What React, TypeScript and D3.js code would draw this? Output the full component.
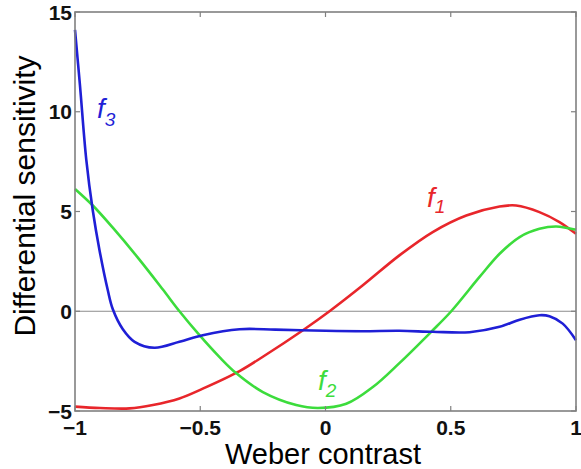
import React from "react";
import * as d3 from "d3";

const xTicks = [-1, -0.5, 0, 0.5, 1];
const xTickLabels = ["−1", "−0.5", "0", "0.5", "1"];
const yTicks = [-5, 0, 5, 10, 15];
const yTickLabels = ["−5", "0", "5", "10", "15"];

const f1X = [-1, -0.9, -0.782, -0.689, -0.583, -0.49, -0.343, -0.25, -0.09, 0.016, 0.149, 0.295, 0.428, 0.562, 0.695, 0.761, 0.854, 0.934, 1];
const f1Y = [-4.78, -4.85, -4.87, -4.7, -4.37, -3.88, -3.0, -2.28, -0.95, 0, 1.3, 2.8, 3.97, 4.8, 5.25, 5.3, 4.97, 4.47, 3.88];

const f2X = [-1, -0.929, -0.85, -0.75, -0.65, -0.583, -0.503, -0.423, -0.357, -0.25, -0.117, -0.03, 0.083, 0.189, 0.295, 0.422, 0.502, 0.615, 0.695, 0.775, 0.854, 0.921, 1];
const f2Y = [6.13, 5.3, 4.2, 2.7, 1.1, 0, -1.2, -2.3, -3.1, -4.05, -4.7, -4.85, -4.64, -3.8, -2.6, -1.03, 0, 1.72, 2.88, 3.72, 4.13, 4.25, 4.08];

const f3X = [-1, -0.98, -0.955, -0.929, -0.902, -0.869, -0.849, -0.809, -0.762, -0.683, -0.583, -0.49, -0.343, -0.2, 0, 0.15, 0.295, 0.428, 0.575, 0.695, 0.775, 0.854, 0.894, 0.947, 1];
const f3Y = [14.1, 11.3, 7.6, 5.05, 3.05, 1.05, 0.1, -0.9, -1.53, -1.83, -1.53, -1.2, -0.9, -0.92, -0.98, -1.0, -0.98, -1.03, -1.05, -0.78, -0.42, -0.2, -0.25, -0.62, -1.45];

const RED = "#e8262b";
const GREEN = "#3cdc3c";
const BLUE = "#1f1fd6";

export default function App() {
  const W = 581, H = 469;
  const left = 75, right = 576, top = 12, bottom = 411;
  const x = d3.scaleLinear().domain([-1, 1]).range([left, right]);
  const y = d3.scaleLinear().domain([-5, 15]).range([bottom, top]);
  const line = d3
    .line<[number, number]>()
    .x((d) => x(d[0]))
    .y((d) => y(d[1]))
    .curve(d3.curveCatmullRom.alpha(0.5));
  const series = [
    { xs: f1X, ys: f1Y, color: RED },
    { xs: f2X, ys: f2Y, color: GREEN },
    { xs: f3X, ys: f3Y, color: BLUE },
  ];
  const font = "'Liberation Sans', Arial, Helvetica, sans-serif";
  const axisColor = "#808080";
  const tl = 5;
  return (
    <svg width={W} height={H} style={{ position: "absolute", left: 0, top: 0, background: "#fff" }} fontFamily={font}>
      <rect x={0} y={0} width={W} height={H} fill="#fff" />
      <line x1={x(-1)} x2={x(1)} y1={y(0)} y2={y(0)} stroke="#8c8c8c" strokeWidth={1} />
      {series.map((s, i) => (
        <path
          key={i}
          d={line(s.xs.map((v, j) => [v, s.ys[j]] as [number, number])) || ""}
          fill="none"
          stroke={s.color}
          strokeWidth={2.6}
          strokeLinejoin="round"
        />
      ))}
      <rect x={left} y={top} width={right - left} height={bottom - top} fill="none" stroke={axisColor} strokeWidth={1.6} />
      {xTicks.map((t, i) => (
        <g key={"xt" + i}>
          <line x1={x(t)} x2={x(t)} y1={bottom} y2={bottom - tl} stroke={axisColor} strokeWidth={1.2} />
          <line x1={x(t)} x2={x(t)} y1={top} y2={top + tl} stroke={axisColor} strokeWidth={1.2} />
          <text x={x(t)} y={435} textAnchor="middle" fontSize={21} fontWeight="bold" fill="#111">
            {xTickLabels[i]}
          </text>
        </g>
      ))}
      {yTicks.map((t, i) => (
        <g key={"yt" + i}>
          <line x1={left} x2={left + tl} y1={y(t)} y2={y(t)} stroke={axisColor} strokeWidth={1.2} />
          <line x1={right} x2={right - tl} y1={y(t)} y2={y(t)} stroke={axisColor} strokeWidth={1.2} />
          <text x={72} y={y(t)} dy="0.36em" textAnchor="end" fontSize={21} fontWeight="bold" fill="#111">
            {yTickLabels[i]}
          </text>
        </g>
      ))}
      <text x={323} y={464} textAnchor="middle" fontSize={29} fill="#000">
        Weber contrast
      </text>
      <text transform={`translate(35,${196}) rotate(-90)`} textAnchor="middle" fontSize={30} fill="#000">
        Differential sensitivity
      </text>
      <text x={427} y={207} fontSize={28} fontStyle="italic" fill={RED}>
        f<tspan fontSize={19} dy={6}>1</tspan>
      </text>
      <text x={318} y={390} fontSize={28} fontStyle="italic" fill={GREEN}>
        f<tspan fontSize={19} dy={7}>2</tspan>
      </text>
      <text x={97} y={118} fontSize={28} fontStyle="italic" fill={BLUE}>
        f<tspan fontSize={19} dy={8}>3</tspan>
      </text>
    </svg>
  );
}
